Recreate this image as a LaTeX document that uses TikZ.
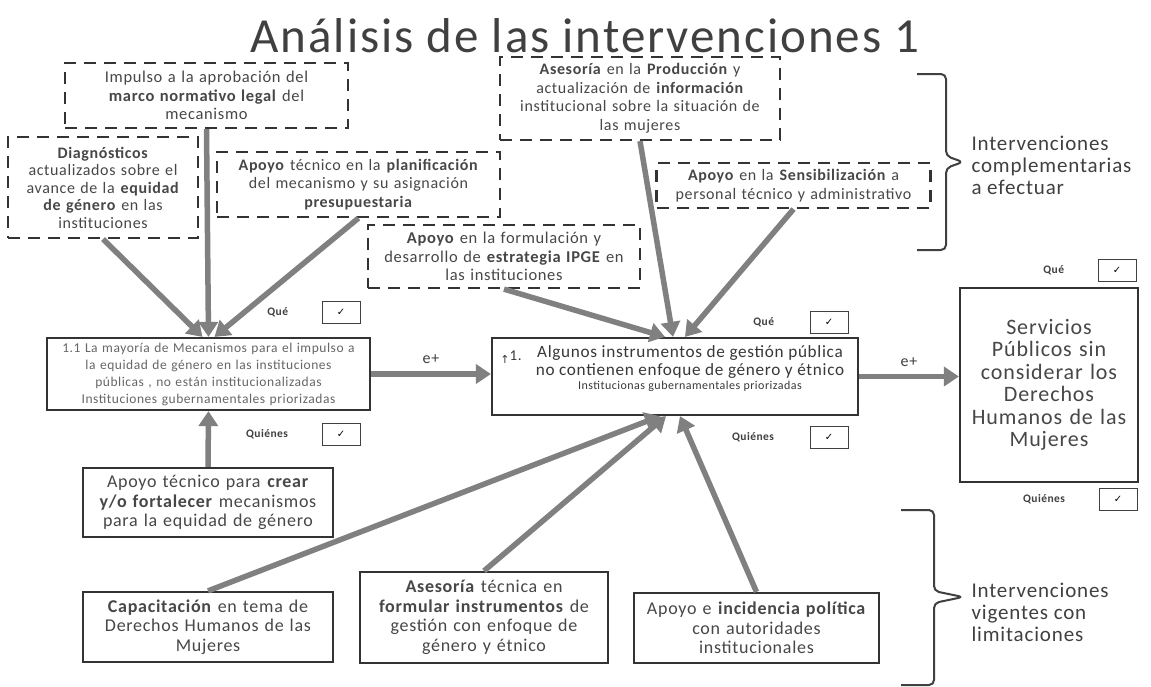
\documentclass[tikz,border=0pt]{standalone}
\usepackage{fontspec}
\setmainfont{Carlito}[LetterSpace=4]
\newfontfamily\symfont{DejaVu Sans}
\usetikzlibrary{positioning}
\usetikzlibrary{arrows.meta}
\tikzset{node distance=30pt,
	caja/.style={
		draw=black!80,
		line width=2.2pt,
		align=center,
		text=black!72,
		inner sep=2pt},
	cajaint/.style={caja, dash pattern=on 12pt off 8pt},
	flecha/.style={
		draw=black!50,
		line width=5.5pt,
		-{Triangle[width=19pt,length=15pt]}},
	marca/.style={draw=black!75, line width=0.8pt, minimum width=38pt,
		minimum height=22pt, inner sep=0pt,
		font=\symfont\fontsize{10}{10}\selectfont},
	etiq/.style={text=black!75, font=\bfseries\fontsize{11.5}{11.5}\selectfont},
	llave/.style={draw=black!75, line width=2pt, rounded corners=5pt},
	lado/.style={anchor=west, align=left, text=black!75,
		font=\fontsize{21}{22}\selectfont}
}

\begin{document}
\begin{tikzpicture}[x=1pt,y=-1pt]
	\fill[white] (0,0) rectangle (1151,686);
	\useasboundingbox (0,0) rectangle (1151,686);
	\node[text=black!75, font=\fontsize{49}{49}\selectfont] (titulo) at (585,36) {Análisis de las intervenciones 1};
	% intervenciones complementarias (cajas punteadas)
	\node[cajaint, minimum width=283, minimum height=65, text width=275, font=\fontsize{16.5}{18.5}\selectfont] (impulso) at (206.5,95.5)
		{Impulso a la aprobación del\\ \textbf{marco normativo legal} del\\ mecanismo};
	\node[cajaint, minimum width=190, minimum height=101, text width=184, font=\fontsize{16}{17.5}\selectfont] (diag) at (103,187.5)
		{\textbf{Diagnósticos}\\ actualizados sobre el\\ avance de la \textbf{equidad}\\ \textbf{de género} en las\\ instituciones};
	\node[cajaint, minimum width=283, minimum height=65, text width=278, font=\fontsize{16}{18.5}\selectfont] (planif) at (358.5,184.5)
		{\textbf{Apoyo} técnico en la \textbf{planificación}\\ del mecanismo y su asignación\\ \textbf{presupuestaria}};
	\node[cajaint, minimum width=280, minimum height=83, text width=276, font=\fontsize{16}{18.5}\selectfont] (aseso) at (640,98.5)
		{\textbf{Asesoría} en la \textbf{Producción} y\\ actualización de \textbf{información}\\ institucional sobre la situación de\\ las mujeres};
	\node[cajaint, minimum width=273, minimum height=45, text width=270, font=\fontsize{16}{18.5}\selectfont] (sensib) at (793.5,185.5)
		{\textbf{Apoyo} en la \textbf{Sensibilización} a\\ personal técnico y administrativo};
	\node[cajaint, minimum width=272, minimum height=63, text width=266, font=\fontsize{16.5}{18.5}\selectfont] (ipge) at (504,256.5)
		{\textbf{Apoyo} en la formulación y\\ desarrollo de \textbf{estrategia IPGE} en\\ las instituciones};
	% problemas y efecto
	\node[caja, text=black!60, minimum width=323, minimum height=72, text width=319, font=\fontsize{13.5}{17}\selectfont] (mech) at (208.5,374)
		{1.1 La mayoría de Mecanismos para el impulso a\\ la equidad de género en las instituciones\\ públicas , no están institucionalizadas\\ Instituciones gubernamentales priorizadas};
	\node[caja, minimum width=366, minimum height=77] (alg) at (675,376.5) {};
	\node[align=center, text=black!78, font=\fontsize{17.2}{17.5}\selectfont] (algtxt) at (690,369)
		{Algunos instrumentos de gestión pública\\ no contienen enfoque de género y étnico\\[-3pt] {\fontsize{12}{12}\selectfont Institucionas gubernamentales priorizadas}};
	\node[text=black!78, font=\fontsize{15}{15}\selectfont] (num) at (511,357) {{\symfont\fontsize{11}{11}\selectfont ↑}\raisebox{3pt}{1.}};
	\node[caja, minimum width=178, minimum height=194, text width=174, font=\fontsize{22}{22.5}\selectfont] (serv) at (1049,385)
		{Servicios\\ Públicos sin\\ considerar los\\ Derechos\\ Humanos de las\\ Mujeres};
	% intervenciones vigentes
	\node[caja, minimum width=250, minimum height=69, text width=246, font=\fontsize{18}{19.5}\selectfont] (crear) at (208,502.5)
		{Apoyo técnico para \textbf{crear}\\ \textbf{y/o fortalecer} mecanismos\\ para la equidad de género};
	\node[caja, minimum width=250, minimum height=70, text width=246, font=\fontsize{18}{19.5}\selectfont] (capac) at (208,627)
		{\textbf{Capacitación} en tema de\\ Derechos Humanos de las\\ Mujeres};
	\node[caja, minimum width=248, minimum height=91, text width=244, font=\fontsize{18}{19.5}\selectfont] (asestec) at (484,617.5)
		{\textbf{Asesoría} técnica en\\ \textbf{formular instrumentos} de\\ gestión con enfoque de\\ género y étnico};
	\node[caja, minimum width=245, minimum height=70, text width=241, font=\fontsize{18}{19.5}\selectfont] (incid) at (756.5,628)
		{Apoyo e \textbf{incidencia política}\\ con autoridades\\ institucionales};
	% casillas
	\node[marca] (c1) at (341,312) {✓};
	\node[etiq, left=30pt of c1] (q1) {Qué};
	\node[marca] (c2) at (341,434) {✓};
	\node[etiq, left=30pt of c2] (w1) {Quiénes};
	\node[marca] (c3) at (829,322.5) {✓};
	\node[etiq, left=32pt of c3] (q2) {Qué};
	\node[marca] (c4) at (829,437) {✓};
	\node[etiq, left=32pt of c4] (w2) {Quiénes};
	\node[marca] (c5) at (1117,270) {✓};
	\node[etiq, left=30pt of c5] (q3) {Qué};
	\node[marca] (c6) at (1118,499.5) {✓};
	\node[etiq, left=30pt of c6] (w3) {Quiénes};
	% flechas
	\draw[flecha] (diag.south) -- ([xshift=-6pt]mech.north);
	\draw[flecha] (impulso.south) -- (mech.north);
	\draw[flecha] (planif.south) -- ([xshift=6pt]mech.north);
	\draw[flecha] (crear.north) -- (mech.south);
	\draw[flecha] (mech.east) -- (mech.east -| alg.west) node[midway, above=4pt, text=black!75, font=\fontsize{16}{16}\selectfont] {e+};
	\draw[flecha] (alg.east) -- (alg.east -| serv.west) node[midway, above=4pt, text=black!75, font=\fontsize{16}{16}\selectfont] {e+};
	\draw[flecha] (ipge.south) -- ([xshift=-10pt]alg.north);
	\draw[flecha] (aseso.south) -- ([xshift=-2pt]alg.north);
	\draw[flecha] (sensib.south) -- ([xshift=10pt]alg.north);
	\draw[flecha] (capac.north) -- ([xshift=-15pt]alg.south);
	\draw[flecha] (asestec.north) -- ([xshift=-9pt]alg.south);
	\draw[flecha] (incid.north) -- ([xshift=5pt]alg.south);
	% llaves
	\draw[llave] (917,74) -- (946,74) -- (946,156) -- (963,162) -- (946,168) -- (946,250) -- (917,250);
	\draw[llave] (901,510) -- (934,510) -- (934,591) -- (963,597) -- (934,603) -- (934,685) -- (901,685);
	\node[lado] (comp) at (968,165) {Intervenciones\\ complementarias\\ a efectuar};
	\node[lado] (vig) at (968,612) {Intervenciones\\ vigentes con\\ limitaciones};
\end{tikzpicture}
\end{document}
